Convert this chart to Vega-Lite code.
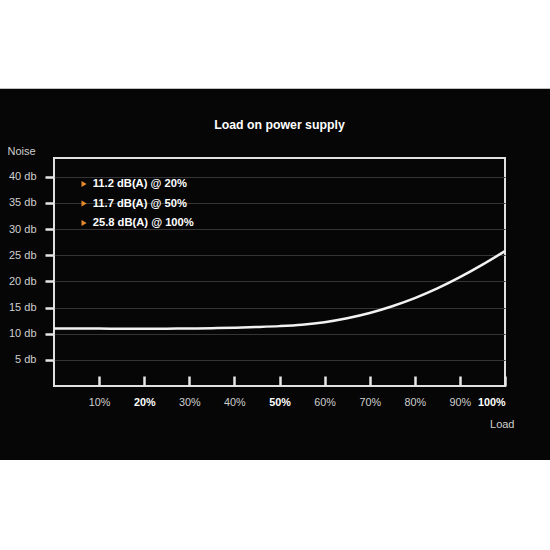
{
  "$schema": "https://vega.github.io/schema/vega-lite/v6.json",
  "autosize": "none",
  "width": 451,
  "height": 228,
  "padding": {"left": 54, "top": 158, "right": 45, "bottom": 164},
  "background": "#060606",
  "config": {
    "font": "Liberation Sans",
    "view": {"stroke": "#e0e0e0", "strokeWidth": 2, "fill": "#060606"}
  },
  "title": {
    "text": "Load on power supply",
    "font": "Liberation Sans",
    "fontSize": 12.3,
    "fontWeight": "bold",
    "color": "#ffffff",
    "frame": "group",
    "baseline": "middle",
    "offset": -138
  },
  "datasets": {
    "noise": [
      {"load": 0, "db": 11.0},
      {"load": 5, "db": 11.0},
      {"load": 10, "db": 10.98},
      {"load": 15, "db": 10.96},
      {"load": 20, "db": 10.95},
      {"load": 25, "db": 10.97},
      {"load": 30, "db": 11.0},
      {"load": 35, "db": 11.06},
      {"load": 40, "db": 11.15},
      {"load": 45, "db": 11.28},
      {"load": 50, "db": 11.45},
      {"load": 55, "db": 11.72},
      {"load": 60, "db": 12.2},
      {"load": 65, "db": 12.95},
      {"load": 70, "db": 13.95},
      {"load": 75, "db": 15.25},
      {"load": 80, "db": 16.8},
      {"load": 85, "db": 18.65},
      {"load": 90, "db": 20.8},
      {"load": 95, "db": 23.2},
      {"load": 100, "db": 25.8}
    ],
    "notes": [
      {"note": "11.2 dB(A) @ 20%", "load": 20, "db": 11.2},
      {"note": "11.7 dB(A) @ 50%", "load": 50, "db": 11.7},
      {"note": "25.8 dB(A) @ 100%", "load": 100, "db": 25.8}
    ]
  },
  "layer": [
    {
      "data": {"name": "noise"},
      "mark": {"type": "line", "interpolate": "monotone", "strokeWidth": 2.5, "color": "#f2f2f2"},
      "encoding": {
        "x": {
          "field": "load",
          "type": "quantitative",
          "scale": {"domain": [0, 100], "nice": false},
          "axis": {
            "values": [10, 20, 30, 40, 50, 60, 70, 80, 90, 100],
            "tickCount": 20,
            "labelExpr": "datum.value + '%'",
            "labelOverlap": false,
            "domain": false,
            "grid": false,
            "tickSize": -10,
            "tickWidth": 2.5,
            "tickColor": "#e6e6e6",
            "labelPadding": 20.5,
            "labelFontSize": 10.8,
            "labelFont": "Liberation Sans",
            "labelColor": {"condition": {"test": "datum.value == 20 || datum.value == 50 || datum.value == 100", "value": "#ffffff"}, "value": "#cfcfcf"},
            "labelFontWeight": {"condition": {"test": "datum.value == 20 || datum.value == 50 || datum.value == 100", "value": "bold"}, "value": "normal"},
            "title": "Load",
            "titleFont": "Liberation Sans",
            "titleFontSize": 11,
            "titleFontWeight": "normal",
            "titleColor": "#cfcfcf",
            "titleAlign": "right",
            "titleBaseline": "middle",
            "titleX": 460,
            "titleY": 38
          }
        },
        "y": {
          "field": "db",
          "type": "quantitative",
          "scale": {"domain": [0, 43.6], "nice": false},
          "axis": {
            "values": [5, 10, 15, 20, 25, 30, 35, 40],
            "tickCount": 20,
            "labelExpr": "datum.value + ' db'",
            "labelOverlap": false,
            "domain": false,
            "grid": true,
            "gridColor": "#353535",
            "gridWidth": 1,
            "tickSize": 9,
            "tickWidth": 2.5,
            "tickColor": "#e6e6e6",
            "labelPadding": 9,
            "labelFontSize": 11,
            "labelFont": "Liberation Sans",
            "labelColor": "#cfcfcf",
            "title": "Noise",
            "titleFont": "Liberation Sans",
            "titleFontSize": 11,
            "titleFontWeight": "normal",
            "titleColor": "#cfcfcf",
            "titleAngle": 0,
            "titleAlign": "left",
            "titleBaseline": "middle",
            "titleX": -47,
            "titleY": -7
          }
        }
      }
    },
    {
      "data": {"values": [{}]},
      "mark": {"type": "rect", "color": "#ffffff"},
      "encoding": {
        "x": {"datum": -13, "type": "quantitative"},
        "x2": {"datum": 112},
        "y": {"datum": 73.9, "type": "quantitative"},
        "y2": {"datum": 56.83}
      }
    },
    {
      "data": {"values": [{}]},
      "mark": {"type": "rect", "color": "#ffffff"},
      "encoding": {
        "x": {"datum": -13, "type": "quantitative"},
        "x2": {"datum": 112},
        "y": {"datum": -14.15, "type": "quantitative"},
        "y2": {"datum": -34}
      }
    },
    {
      "data": {"name": "notes"},
      "mark": {"type": "point", "shape": "triangle-right", "filled": true, "opacity": 0},
      "encoding": {
        "x": {"field": "load", "type": "quantitative"},
        "y": {"field": "db", "type": "quantitative"},
        "color": {
          "field": "note",
          "type": "nominal",
          "scale": {
            "domain": ["11.2 dB(A) @ 20%", "11.7 dB(A) @ 50%", "25.8 dB(A) @ 100%"],
            "range": ["#e88a2c", "#e88a2c", "#e88a2c"]
          },
          "legend": {
            "title": null,
            "orient": "none",
            "legendX": 24.5,
            "legendY": 20.5,
            "padding": 0,
            "symbolType": "triangle-right",
            "symbolSize": 36,
            "symbolOpacity": 1,
            "symbolStrokeWidth": 0,
            "symbolFillColor": "#e88a2c",
            "labelFont": "Liberation Sans",
            "labelFontSize": 11.2,
            "labelFontWeight": "bold",
            "labelColor": "#ffffff",
            "labelOffset": 3,
            "rowPadding": 7.5
          }
        }
      }
    }
  ]
}
